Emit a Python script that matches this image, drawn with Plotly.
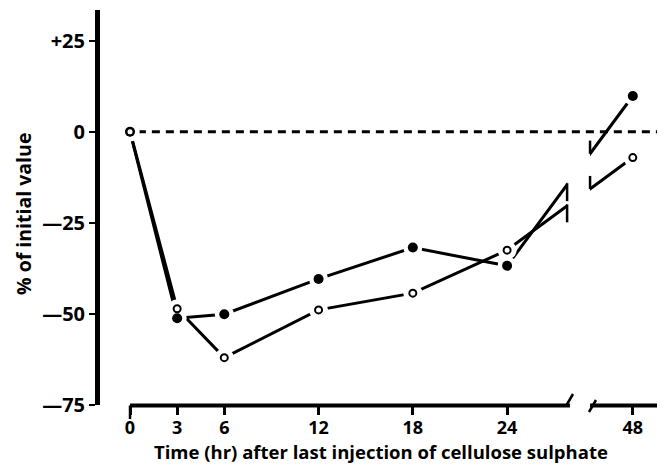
import numpy as np
import plotly.graph_objects as go

# ---------------- data ----------------
hours = [0, 3, 6, 12, 18, 24, 48]
x_tick_labels = ["0", "3", "6", "12", "18", "24", "48"]
filled_vals = [0, -51.2, -50.1, -40.4, -31.8, -36.8, 9.8]
open_vals = [0, -48.6, -62.0, -48.9, -44.3, -32.5, -7.1]
y_tick_vals = [-75, -50, -25, 0, 25]
y_tick_labels = ["\u201475", "\u201450", "\u201425", "0", "+25"]

# ---------------- broken time axis ----------------
BREAK_AT = 24
COMPRESS = 1 / 3


def axis_pos(t):
    return t if t <= BREAK_AT else BREAK_AT + (t - BREAK_AT) * COMPRESS


xs = [axis_pos(t) for t in hours]

# page geometry (the page body adds an 8px offset)
OFF = 8
W, H = 665 - OFF, 468 - OFF
PL, PR, PT, PB = 100, 665, 10, 405        # plot area in page pixels
XMIN, XMAX = -1.91, 34.05
YMIN, YMAX = -75, 33.4
GAP_LO, GAP_HI = 27.82, 29.28          # axis units of the break in the curves
AX_LO, AX_HI = 28.0, 29.28             # axis units of the break in the x axis line


def xpaper(xd):
    return (xd - XMIN) / (XMAX - XMIN)


def ypaper_px(py):
    return (PB - py) / (PB - PT)


def xpaper_px(px):
    return (px - PL) / (PR - PL)


FONT = "Open Sans"
INK = "black"

fig = go.Figure()

# connecting lines
for vals in (filled_vals, open_vals):
    fig.add_trace(go.Scatter(x=xs, y=vals, mode="lines",
                             line=dict(color=INK, width=3),
                             hoverinfo="skip", showlegend=False))

# white halos so that lines stop short of the symbols
fig.add_trace(go.Scatter(x=xs + xs, y=filled_vals + open_vals, mode="markers",
                         marker=dict(size=19, color="white", line=dict(width=0)),
                         hoverinfo="skip", showlegend=False))

# symbols
fig.add_trace(go.Scatter(x=xs, y=filled_vals, mode="markers",
                         marker=dict(size=10, color=INK, line=dict(width=0)),
                         showlegend=False))
fig.add_trace(go.Scatter(x=xs, y=open_vals, mode="markers",
                         marker=dict(size=7, color="white", line=dict(width=2, color=INK)),
                         showlegend=False))

shapes = []
# dashed zero reference line
shapes.append(dict(type="line", xref="x", yref="y", x0=0.5, x1=33.7, y0=0, y1=0,
                   line=dict(color=INK, width=3, dash="8px,6px"), layer="below"))
# gap in the curves at the axis break
shapes.append(dict(type="rect", xref="x", yref="y", x0=GAP_LO, x1=GAP_HI, y0=-27, y1=-3,
                   fillcolor="white", line=dict(width=0), layer="above"))
for vals in (filled_vals, open_vals):
    yl = float(np.interp(GAP_LO, xs, vals))
    yr = float(np.interp(GAP_HI, xs, vals))
    shapes.append(dict(type="line", xref="x", yref="y", x0=GAP_LO, x1=GAP_LO,
                       y0=yl - 4.5, y1=yl + 0.4, line=dict(color=INK, width=2.5), layer="above"))
    shapes.append(dict(type="line", xref="x", yref="y", x0=GAP_HI, x1=GAP_HI,
                       y0=yr, y1=yr + 3.6, line=dict(color=INK, width=2.5), layer="above"))

# broken x axis line
yaxis_line = ypaper_px(405.5)
shapes.append(dict(type="line", xref="paper", yref="paper", x0=xpaper(0), x1=xpaper(AX_LO),
                   y0=yaxis_line, y1=yaxis_line, line=dict(color=INK, width=4)))
shapes.append(dict(type="line", xref="paper", yref="paper", x0=xpaper(AX_HI), x1=1.0,
                   y0=yaxis_line, y1=yaxis_line, line=dict(color=INK, width=4)))
# longer tick at origin
shapes.append(dict(type="line", xref="paper", yref="paper", x0=xpaper(0), x1=xpaper(0),
                   y0=yaxis_line, y1=ypaper_px(419), line=dict(color=INK, width=2.5)))
# break slashes
shapes.append(dict(type="line", xref="paper", yref="paper",
                   x0=xpaper_px(566), y0=ypaper_px(406), x1=xpaper_px(573), y1=ypaper_px(394),
                   line=dict(color=INK, width=2.5)))
shapes.append(dict(type="line", xref="paper", yref="paper",
                   x0=xpaper_px(589), y0=ypaper_px(412), x1=xpaper_px(596), y1=ypaper_px(400),
                   line=dict(color=INK, width=2.5)))

annotations = [
    dict(text="Time (hr) after last injection of cellulose sulphate",
         xref="paper", yref="paper", x=xpaper_px(381), y=ypaper_px(451),
         xanchor="center", yanchor="middle", showarrow=False,
         font=dict(family=FONT, size=18.5, color=INK, weight="bold")),
    dict(text="% of initial value", textangle=-90,
         xref="paper", yref="paper", x=xpaper_px(23), y=ypaper_px(214),
         xanchor="center", yanchor="middle", showarrow=False,
         font=dict(family=FONT, size=19.5, color=INK, weight="bold")),
]

fig.update_layout(
    width=W, height=H,
    margin=dict(l=PL - OFF, r=W - (PR - OFF), t=PT - OFF, b=H - (PB - OFF), pad=0),
    paper_bgcolor="white", plot_bgcolor="white",
    showlegend=False, hovermode=False,
    shapes=shapes, annotations=annotations,
    xaxis=dict(range=[XMIN, XMAX], showgrid=False, zeroline=False, showline=False,
               tickmode="array", tickvals=xs, ticktext=x_tick_labels,
               ticks="outside", ticklen=9, tickwidth=2.5, tickcolor=INK,
               ticklabelstandoff=-3,
               tickfont=dict(family=FONT, size=18, color=INK, weight="bold")),
    yaxis=dict(range=[YMIN, YMAX], showgrid=False, zeroline=False,
               showline=True, linewidth=5, linecolor=INK, mirror=False,
               tickmode="array", tickvals=y_tick_vals, ticktext=y_tick_labels,
               ticks="outside", ticklen=6, tickwidth=2, tickcolor=INK,
               tickfont=dict(family=FONT, size=20, color=INK, weight="bold")),
)

fig.write_html("out.html")
